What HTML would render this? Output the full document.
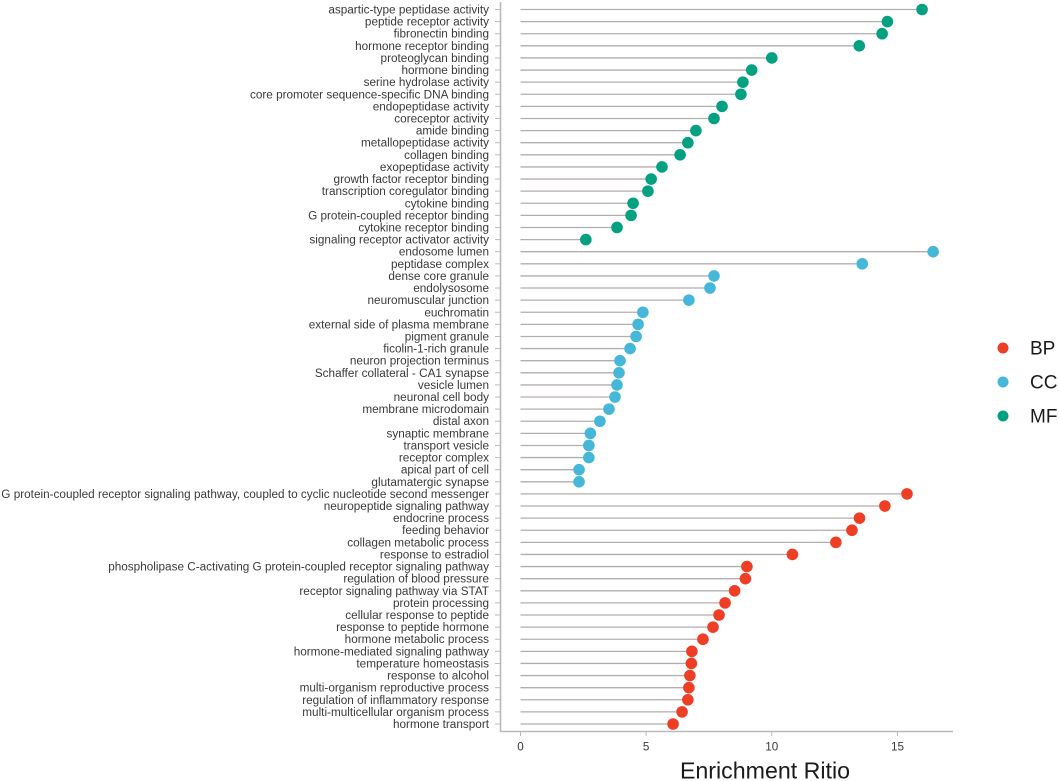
<!DOCTYPE html>
<html lang="en">
<head>
<meta charset="utf-8">
<title>Enrichment lollipop chart</title>
<style>
html,body{margin:0;padding:0;background:#fff;width:1059px;height:781px;overflow:hidden}
svg{display:block;font-family:"Liberation Sans",Arial,sans-serif;filter:blur(0.3px)}
</style>
</head>
<body>
<svg id="chart" width="1059" height="781" viewBox="0 0 1059 781" xmlns="http://www.w3.org/2000/svg"></svg>
<script>
const categories = [
"aspartic-type peptidase activity","peptide receptor activity","fibronectin binding","hormone receptor binding","proteoglycan binding","hormone binding","serine hydrolase activity","core promoter sequence-specific DNA binding","endopeptidase activity","coreceptor activity","amide binding","metallopeptidase activity","collagen binding","exopeptidase activity","growth factor receptor binding","transcription coregulator binding","cytokine binding","G protein-coupled receptor binding","cytokine receptor binding","signaling receptor activator activity",
"endosome lumen","peptidase complex","dense core granule","endolysosome","neuromuscular junction","euchromatin","external side of plasma membrane","pigment granule","ficolin-1-rich granule","neuron projection terminus","Schaffer collateral - CA1 synapse","vesicle lumen","neuronal cell body","membrane microdomain","distal axon","synaptic membrane","transport vesicle","receptor complex","apical part of cell","glutamatergic synapse",
"G protein-coupled receptor signaling pathway, coupled to cyclic nucleotide second messenger","neuropeptide signaling pathway","endocrine process","feeding behavior","collagen metabolic process","response to estradiol","phospholipase C-activating G protein-coupled receptor signaling pathway","regulation of blood pressure","receptor signaling pathway via STAT","protein processing","cellular response to peptide","response to peptide hormone","hormone metabolic process","hormone-mediated signaling pathway","temperature homeostasis","response to alcohol","multi-organism reproductive process","regulation of inflammatory response","multi-multicellular organism process","hormone transport"];
const values = [
15.98,14.6,14.39,13.48,10,9.2,8.85,8.77,8.02,7.7,6.98,6.66,6.35,5.63,5.2,5.07,4.48,4.4,3.84,2.6,
16.42,13.6,7.7,7.54,6.7,4.87,4.68,4.6,4.36,3.96,3.92,3.84,3.76,3.52,3.16,2.78,2.72,2.72,2.33,2.33,
15.38,14.5,13.49,13.19,12.55,10.82,9.01,8.95,8.52,8.14,7.9,7.66,7.26,6.82,6.8,6.74,6.7,6.66,6.43,6.07];
const groups = [
"MF","MF","MF","MF","MF","MF","MF","MF","MF","MF","MF","MF","MF","MF","MF","MF","MF","MF","MF","MF",
"CC","CC","CC","CC","CC","CC","CC","CC","CC","CC","CC","CC","CC","CC","CC","CC","CC","CC","CC","CC",
"BP","BP","BP","BP","BP","BP","BP","BP","BP","BP","BP","BP","BP","BP","BP","BP","BP","BP","BP","BP"];
const xTicks = [0,5,10,15];
const legendLabels = ["BP","CC","MF"];
const palette = {BP:"#ee3e25",CC:"#45b7d8",MF:"#03a082"};

const NS = "http://www.w3.org/2000/svg";
const svg = document.getElementById("chart");
function make(tag, attrs, parent, text){
  const e = document.createElementNS(NS, tag);
  for (const k in attrs) e.setAttribute(k, attrs[k]);
  if (text !== undefined) e.textContent = text;
  (parent || svg).appendChild(e);
  return e;
}
const xScale = v => 520.5 + v * 25.13;
const yScale = i => 9.5 + i * (724 - 9.5) / (categories.length - 1);
const axisColor = "#bdb9bb", textColor = "#3a3a3a";

const yAxis = make("g", {});


const yLine = make("line", {x1:500.5,x2:500.5,y1:2,y2:732,stroke:axisColor,"stroke-width":1.6}, yAxis);



const xAxis = make("g", {});


const xLine = make("line", {x1:500,x2:953,y1:731.5,y2:731.5,stroke:axisColor,"stroke-width":1.6}, xAxis);



xTicks.forEach(t => {
  const tick = make("line", {x1:xScale(t),x2:xScale(t),y1:732,y2:736,stroke:axisColor,"stroke-width":1}, xAxis);
  
  
  const lab = make("text", {x:xScale(t),y:750.5,"text-anchor":"middle","font-size":"11.7px",fill:textColor}, xAxis, String(t));
  
  
});

categories.forEach((c, i) => {
  const y = yScale(i);
  const tick = make("line", {x1:495,x2:500,y1:y,y2:y,stroke:axisColor,"stroke-width":1}, yAxis);
  
  
  const lab = make("text", {x:489,y:y+4,"text-anchor":"end","font-size":"11.75px",fill:textColor}, yAxis, c);
  
  
});

const marks = make("g", {});


values.forEach((v, i) => {
  const y = yScale(i);
  const stem = make("line", {x1:xScale(0),x2:xScale(v),y1:y,y2:y,stroke:"#b3aeae","stroke-width":1.3}, marks);
  
  
});
values.forEach((v, i) => {
  const dot = make("circle", {cx:xScale(v),cy:yScale(i),r:5.8,fill:palette[groups[i]]}, marks);
  
  
});

const xTitle = make("text", {x:765,y:778.5,"text-anchor":"middle","font-size":"23.2px",fill:"#1a1a1a"}, svg, "Enrichment Ritio");



const legend = make("g", {});


legendLabels.forEach((l, i) => {
  const y = 348 + i * 34;
  const sw = make("circle", {cx:1003,cy:y,r:5.5,fill:palette[l]}, legend);
  
  
  const tx = make("text", {x:1030,y:y+6.5,"font-size":"19px",fill:"#1a1a1a"}, legend, l);
  
  
});
</script>
</body>
</html>
